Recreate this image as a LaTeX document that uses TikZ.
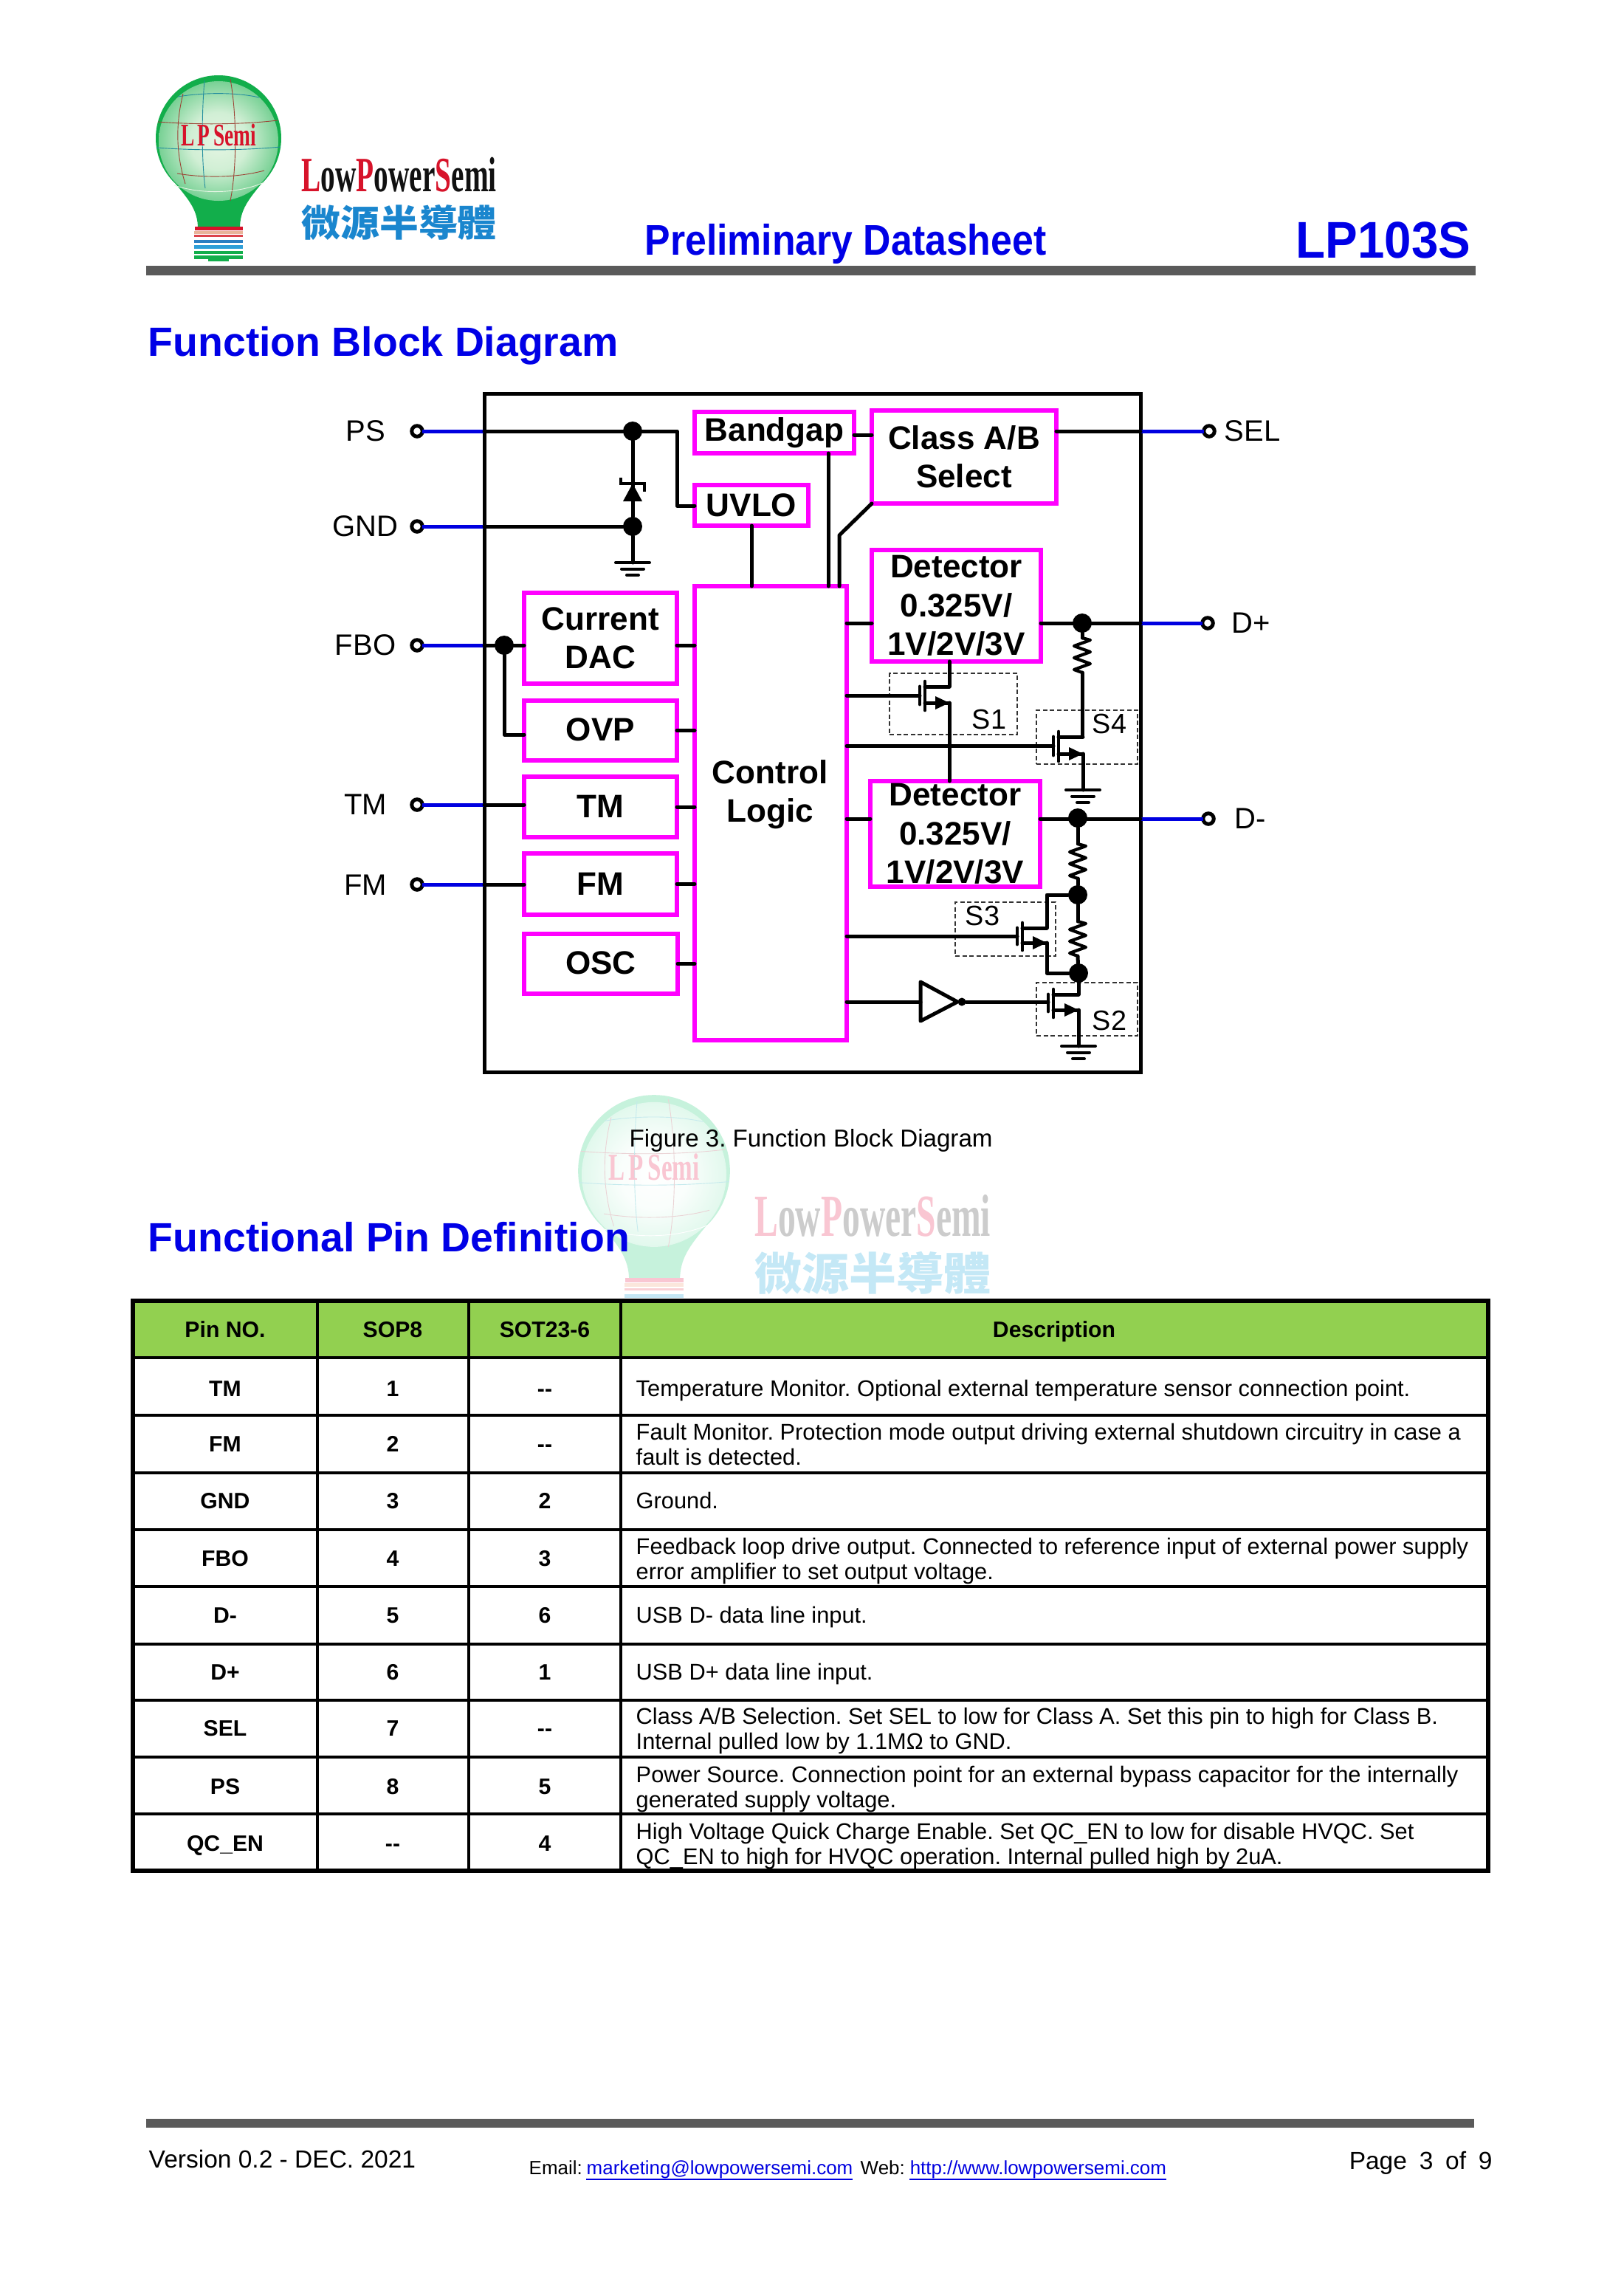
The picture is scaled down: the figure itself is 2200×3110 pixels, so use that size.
\documentclass[tikz,border=0pt]{standalone}
\usepackage{fontspec}
\setmainfont{Liberation Sans}
\newfontfamily\serifname{Liberation Serif}
\newfontfamily\cjkname{Noto Sans CJK TC}
\usetikzlibrary{calc}
\frenchspacing
\definecolor{mag}{HTML}{FF00FF}
\definecolor{wireblue}{HTML}{0000E0}
\definecolor{headblue}{HTML}{0000E6}
\definecolor{bargray}{HTML}{5A5A5A}
\definecolor{tablegreen}{HTML}{92D050}
\definecolor{lgreen}{HTML}{12AE4B}
\definecolor{llight}{HTML}{E6F6E4}
\pgfdeclareradialshading[lgreen,llight]{logoglow}{\pgfpointorigin}{%
  color(0bp)=(llight);color(12bp)=(llight!90!lgreen);color(26bp)=(llight!45!lgreen);
  color(38bp)=(lgreen);color(50bp)=(lgreen)}
\def\uu{0.27pt}
\tikzset{
  x=0.27pt,y=-0.27pt,
  wire/.style={line width=5*\uu,black,line cap=round,line join=round},
  bluewire/.style={line width=5*\uu,wireblue},
  chipbox/.style={draw=black,line width=5*\uu,rectangle,inner sep=0pt,outer sep=0pt},
  magbox/.style={draw=mag,line width=5.5*\uu,rectangle,inner sep=0pt,outer sep=0pt,align=center,
    font=\fontsize{11.9pt}{14.2pt}\bfseries\selectfont},
  dashbox/.style={draw=black!80,line width=1.3*\uu,dash pattern=on 6*\uu off 3.5*\uu,rectangle,inner sep=0pt,outer sep=0pt},
  pincirc/.style={circle,draw=black,fill=white,line width=5*\uu,minimum size=14.5*\uu,inner sep=0pt,outer sep=0pt},
  junc/.style={circle,fill=black,minimum size=26*\uu,inner sep=0pt,outer sep=0pt},
  pinlab/.style={font=\fontsize{10.8pt}{13pt}\selectfont,inner sep=0pt},
  slab/.style={font=\fontsize{10.2pt}{13pt}\selectfont,inner sep=0pt},
  heading/.style={font=\fontsize{14.95pt}{18pt}\bfseries\selectfont,text=headblue,inner sep=0pt,anchor=base west},
  tbhead/.style={font=\fontsize{8.15pt}{10pt}\bfseries\selectfont,inner sep=0pt,anchor=base},
  tbdesc/.style={font=\fontsize{8.31pt}{10pt}\selectfont,inner sep=0pt,anchor=base west},
  foot/.style={font=\fontsize{9.05pt}{11pt}\selectfont,inner sep=0pt,anchor=base west},
  small/.style={font=\fontsize{7.0pt}{9pt}\selectfont,inner sep=0pt,anchor=base west},
  tbline/.style={line width=4.6*\uu,black},
  tbedge/.style={line width=5.6*\uu,black,line cap=rect},
}
% box given by the corners of its stroke
\newcommand\BxText{}
\newcommand\bx[6]{%
  \node[#1,minimum width={(#5-#3)*\uu},minimum height={(#6-#4)*\uu}] (#2)
    at ({(#3+#5)/2},{(#4+#6)/2}) {\BxText};}
\newcommand\tbx[6]{\renewcommand\BxText{#6}\bx{magbox}{#1}{#2}{#3}{#4}{#5}\renewcommand\BxText{}}
% ground symbol
\newcommand\gnd[3]{%
  \coordinate (#1) at (#2,#3);
  \draw[line width=4*\uu,black,line cap=round] (#2-23,#3) -- (#2+23,#3);
  \draw[line width=4*\uu,black,line cap=round] (#2-15,#3+8.5) -- (#2+15,#3+8.5);
  \draw[line width=4*\uu,black,line cap=round] (#2-8,#3+17) -- (#2+8,#3+17);}
% resistor
\newcommand\resis[3]{%
  \coordinate (#1a) at (#2,#3);
  \coordinate (#1b) at (#2,#3+47);
  \draw[wire,line width=4.2*\uu] (#1a) -- (#2+11,#3+3) -- (#2-11,#3+11) -- (#2+11,#3+19)
    -- (#2-11,#3+27) -- (#2+11,#3+35) -- (#2-11,#3+43) -- (#1b);}
% MOSFET: name, channel x, drain y, source y, right x
\newcommand\mosfet[5]{%
  \coordinate (#1g) at (#2-7,{(#3+#4+2)/2});
  \coordinate (#1d) at (#5,#3);
  \coordinate (#1s) at (#5,#4);
  \draw[line width=4.6*\uu,black,line cap=round] (#2,#3-7) -- (#2,#4+10);
  \draw[line width=4.8*\uu,black,line cap=round] (#2-7,#3) -- (#2-7,#4+2);
  \draw[wire] (#2,#3) -- (#1d);
  \draw[wire] (#2,#4) -- (#1s);
  \fill[black] (#5-19,#4-9) -- (#5,#4) -- (#5-19,#4+9) -- cycle;}
% table row with one or two description lines
\newcommand\rowcells[5]{%
  \node[tbhead] (#1pin) at (305,#2+10.5) {#3};
  \node[tbhead] (#1sop) at (532,#2+10.5) {#4};
  \node[tbhead] (#1sot) at (738,#2+10.5) {#5};}
\newcommand\rowA[6]{\rowcells{#1}{#2}{#3}{#4}{#5}
  \node[tbdesc] (#1desc) at (861,#2+10.5) {#6};}
\newcommand\rowB[7]{\rowcells{#1}{#2}{#3}{#4}{#5}
  \node[tbdesc] (#1descA) at (861,#2-6) {#6};
  \node[tbdesc] (#1descB) at (861,#2+28) {#7};}
% logo
\newcommand\drawlogo[3]{%
  \begin{scope}[shift={(#1)},scale=#2,transform shape,name prefix=#3-]
    \fill[lgreen] (-58,62) .. controls (-40,84) and (-28,98) .. (-28,122) -- (29,122)
       .. controls (29,98) and (40,84) .. (58,62) -- cycle;
    \fill[lgreen] (0,0) circle (85);
    \shade[shading=logoglow] (0,4) circle (81);
    \draw[lred!70!lgreen,line width=0.9*\uu] (-82,-22) .. controls (-30,-18) and (30,-18) .. (80,-24);
    \draw[lred!70!lgreen,line width=0.9*\uu] (-56,48) .. controls (-20,54) and (25,54) .. (62,44);
    \draw[lblue!70!lgreen,line width=0.9*\uu] (-55,-56) .. controls (-20,-62) and (25,-62) .. (55,-55);
    \draw[lblue!70!lgreen,line width=0.9*\uu] (-84,13) .. controls (-30,17) and (30,17) .. (84,12);
    \draw[lred!70!lgreen,line width=0.9*\uu] (-48,-60) .. controls (-58,-20) and (-58,20) .. (-45,62);
    \draw[lblue!70!lgreen,line width=0.9*\uu] (-19,-78) .. controls (-23,-30) and (-23,30) .. (-18,68);
    \draw[lred!70!lgreen,line width=0.9*\uu] (16,-80) .. controls (25,-30) and (25,40) .. (16,85);
    \draw[llight,line width=0.9*\uu] (-60,64) .. controls (-25,76) and (25,76) .. (62,60);
    \fill[lred] (-32,120) rectangle (33,125);
    \fill[ltan] (-33,126) rectangle (33,130);
    \fill[lred!70!ltan] (-33,131) rectangle (33,134);
    \fill[lblue] (-33,138) rectangle (33,142);
    \fill[lcyan] (-33,145) rectangle (33,150);
    \fill[lgreen] (-33,153) rectangle (33,157);
    \fill[lgreen] (-33,159) rectangle (33,164);
    \fill[lgreen] (-14,164) rectangle (14,167);
    \node[inner sep=0pt,text=lred] (bulbtext) at (0,-4)
      {\resizebox*{27.5pt}{8.1pt}{\serifname\bfseries L\,P\,Semi}};
    \node[inner sep=0pt,anchor=west] (wordmark) at (112,50)
      {\resizebox*{71.3pt}{12.7pt}{\serifname\bfseries\textcolor{lred}{L}\textcolor{lblack}{ow}\textcolor{lred}{P}\textcolor{lblack}{ower}\textcolor{lred}{S}\textcolor{lblack}{emi}}};
    \node[inner sep=0pt,anchor=west,text=lcjk] (cjkmark) at (112,114)
      {\resizebox*{71.3pt}{13pt}{\cjkname\bfseries 微源半導體}};
  \end{scope}}
\begin{document}
\begin{tikzpicture}
\useasboundingbox (0,0) rectangle (2200,3110);
\fill[white] (0,0) rectangle (2200,3110);
% watermark
\definecolor{lgreen}{HTML}{C6F2DC}
\definecolor{llight}{HTML}{FFFFFF}
\definecolor{lred}{HTML}{F9C6D2}
\definecolor{ltan}{HTML}{FBE6DC}
\definecolor{lblue}{HTML}{C4E6F4}
\definecolor{lcyan}{HTML}{CDEEF8}
\definecolor{lblack}{HTML}{CCCCCC}
\definecolor{lcjk}{HTML}{C4E8F6}
\drawlogo{886,1586}{1.21}{wm}
% logo
\definecolor{lgreen}{HTML}{12AE4B}
\definecolor{llight}{HTML}{E6F6E4}
\definecolor{lred}{HTML}{D7132A}
\definecolor{ltan}{HTML}{E9B49A}
\definecolor{lblue}{HTML}{2B7FC2}
\definecolor{lcyan}{HTML}{2F9FD8}
\definecolor{lblack}{HTML}{111111}
\definecolor{lcjk}{HTML}{1A86CE}
\drawlogo{296,187}{1}{logo}
% header
\fill[bargray] (198,360) rectangle (1999,373);
\node[inner sep=0pt,anchor=base west,text=headblue] (prelim) at (873,345)
  {\scalebox{0.89}[1]{\fontsize{15.7pt}{18pt}\bfseries\selectfont Preliminary Datasheet}};
\node[inner sep=0pt,anchor=base west,text=headblue] (partno) at (1755,349)
  {\scalebox{0.935}[1]{\fontsize{18.9pt}{22pt}\bfseries\selectfont LP103S}};
\node[heading] (h1) at (200,482) {Function Block Diagram};
\node[heading] (h2) at (200,1695) {Functional Pin Definition};
\node[font=\fontsize{8.95pt}{11pt}\selectfont,inner sep=0pt,anchor=base west] (caption) at (852,1553) {Figure 3. Function Block Diagram};
% chip outline
\bx{chipbox}{chip}{656}{533}{1545}{1452}
% blocks
\tbx{bg}{941}{558}{1157}{614}{\raisebox{-0.2pt}{Bandgap}}
\tbx{uvlo}{941}{657}{1095}{712}{\raisebox{0.4pt}{UVLO}}
\tbx{ctl}{941}{794}{1147}{1409}{}
\node[font=\fontsize{11.9pt}{14.1pt}\bfseries\selectfont,align=center,inner sep=0pt] (ctltext) at (1043,1076) {Control\\Logic};
\tbx{cls}{1181}{556}{1431}{682}{Class A/B\\[-0.2pt]Select}
\tbx{det1}{1181}{745}{1410}{896}{Detector\\0.325V/\\1V/2V/3V}
\tbx{det2}{1179}{1058}{1409}{1201}{Detector\\0.325V/\\1V/2V/3V}
\tbx{cdac}{710}{803}{917}{926}{Current\\DAC}
\tbx{ovp}{710}{949}{917}{1030}{\raisebox{0.6pt}{OVP}}
\tbx{tm}{710}{1052}{917}{1134}{\raisebox{0.4pt}{TM}}
\tbx{fm}{710}{1156}{917}{1239}{FM}
\tbx{osc}{710}{1265}{918}{1346}{\raisebox{0.8pt}{OSC}}
% switch boxes
\bx{dashbox}{bxS1}{1205}{912}{1378}{995}
\bx{dashbox}{bxS4}{1404}{962}{1541}{1035}
\bx{dashbox}{bxS3}{1294}{1222}{1430}{1295}
\bx{dashbox}{bxS2}{1404}{1331}{1541}{1403}
\node[slab] (lS1) at (1340,974) {S1};
\node[slab] (lS4) at (1503,980) {S4};
\node[slab] (lS3) at (1331,1240) {S3};
\node[slab] (lS2) at (1503,1382) {S2};
% pins
\node[pincirc] (pinPS) at (565,584) {};
\node[pincirc] (pinGND) at (565,713) {};
\node[pincirc] (pinFB) at (565,874) {};
\node[pincirc] (pinTM) at (565,1090) {};
\node[pincirc] (pinFM) at (565,1198) {};
\node[pincirc] (pinSEL) at (1638,584) {};
\node[pincirc] (pinDP) at (1636,844) {};
\node[pincirc] (pinDM) at (1637,1109) {};
\node[pinlab] (tPS) at (495,584) {PS};
\node[pinlab] (tGND) at (495,713) {GND};
\node[pinlab] (tFB) at (495,874) {FBO};
\node[pinlab] (tTM) at (495,1090) {TM};
\node[pinlab] (tFM) at (495,1199) {FM};
\node[pinlab,anchor=west] (tSEL) at (1658,584) {SEL};
\node[pinlab,anchor=west] (tDP) at (1668,844) {D+};
\node[pinlab,anchor=west] (tDM) at (1672,1109) {D-};
\foreach \p in {pinPS,pinGND,pinFB,pinTM,pinFM}
  \draw[bluewire] (\p.east) -- (\p -| chip.west);
\foreach \p in {pinSEL,pinDP,pinDM}
  \draw[bluewire] (\p -| chip.east) -- (\p.west);
% junctions
\node[junc] (jPS) at (857,584) {};
\node[junc] (jGND) at (857,713) {};
\node[junc] (jFB) at (683,874) {};
\node[junc] (jDP) at (1466,844) {};
\node[junc] (jDM) at (1460,1108) {};
\node[junc] (jA) at (1460,1212) {};
\node[junc] (jB) at (1461,1318) {};
% power rail, zener
\coordinate (bendUV) at (917,685);
\draw[wire] (pinPS -| chip.west) -- (bendUV |- pinPS) -- (bendUV) -- (uvlo.west |- bendUV);
\draw[wire] (pinGND -| chip.west) -- (jGND);
\draw[wire] (jPS) -- (jGND);
\fill[black] (857,655) -- (870,679) -- (844,679) -- cycle;
\draw[line width=4*\uu,black,line join=miter] (841,647) -- (841,655) -- (873,655) -- (873,666);
\gnd{gA}{857}{762}
\draw[wire] (jGND) -- (gA);
% FBO
\coordinate (bendOVP) at (683,995);
\draw[wire] (pinFB -| chip.west) -- (jFB) -- (jFB -| cdac.west);
\draw[wire] (jFB) -- (bendOVP) -- (bendOVP -| ovp.west);
\draw[wire] (pinTM -| chip.west) -- (pinTM -| tm.west);
\draw[wire] (pinFM -| chip.west) -- (pinFM -| fm.west);
% blocks to control logic
\draw[wire] (jFB -| cdac.east) -- (jFB -| ctl.west);
\draw[wire] (ovp.east) -- (ovp.east -| ctl.west);
\draw[wire] (tm.east) -- (tm.east -| ctl.west);
\draw[wire] (fm.east) -- (fm.east -| ctl.west);
\draw[wire] (osc.east) -- (osc.east -| ctl.west);
\draw[wire] (uvlo.south) -- (uvlo.south |- ctl.north);
\coordinate (bgOut) at (1122,614);
\draw[wire] (bgOut) -- (bgOut |- ctl.north);
\coordinate (bgLink) at (1157,589);
\draw[wire] (bgLink) -- (bgLink -| cls.west);
\coordinate (clsBend) at (1137,725);
\draw[wire] (cls.south west) -- (clsBend) -- (clsBend |- ctl.north);
\draw[wire] (pinSEL -| cls.east) -- (pinSEL -| chip.east);
% D+
\draw[wire] (pinDP -| ctl.east) -- (pinDP -| det1.west);
\draw[wire] (pinDP -| det1.east) -- (pinDP -| chip.east);
\resis{rA}{1466}{864}
\draw[wire] (jDP) -- (rAa);
% D-
\draw[wire] (pinDM -| ctl.east) -- (pinDM -| det2.west);
\draw[wire] (pinDM -| det2.east) -- (pinDM -| chip.east);
\resis{rB}{1460}{1143}
\resis{rC}{1460}{1248}
\draw[wire] (jDM) -- (rBa);
\draw[wire] (rBb) -- (jA) -- (rCa);
\draw[wire] (rCb) -- (jB);
% switches
\mosfet{S1}{1253}{930}{952}{1286}
\mosfet{S4}{1434}{998}{1021}{1467}
\mosfet{S3}{1385}{1257}{1277}{1418}
\mosfet{S2}{1427}{1347}{1368}{1461}
\draw[wire] (S1d) -- (S1d |- det1.south);
\draw[wire] (S1s) -- (S1s |- det2.north);
\draw[wire] (S1g -| ctl.east) -- (S1g);
\draw[wire] (S4g -| ctl.east) -- (S4g);
\draw[wire] (rAb) -- (rAb |- S4d);
\gnd{gB}{1467}{1070}
\draw[wire] (S4s) -- (gB);
\draw[wire] (S3g -| ctl.east) -- (S3g);
\draw[wire] (jA) -- (jA -| S3d) -- (S3d);
\draw[wire] (S3s) -- (S3s |- jB) -- (jB);
\draw[wire] (jB) -- (S2d);
\gnd{gC}{1461}{1417}
\draw[wire] (S2s) -- (gC);
% inverter
\coordinate (invA) at (1247,1357);
\draw[wire] (1247,1330) -- (1247,1383) -- (1297,1357) -- cycle;
\node[circle,fill=black,minimum size=11*\uu,inner sep=0pt,outer sep=0pt] (invB) at (1303,1357) {};
\draw[wire] (invA -| ctl.east) -- (invA);
\draw[wire] (invB) -- (invB -| S2g);
% table
\fill[tablegreen] (180,1762) rectangle (2016,1839);
\foreach \yy in {1839,1917,1995,2072,2149,2227,2303,2380,2457}
  \draw[tbline] (180,\yy) -- (2016,\yy);
\foreach \xx in {430,635,841}
  \draw[tbline] (\xx,1762) -- (\xx,2534);
\draw[tbedge] (180,1762) rectangle (2016,2534);
\node[tbhead] (hPin) at (305,1811) {Pin NO.};
\node[tbhead] (hSop) at (532,1811) {SOP8};
\node[tbhead] (hSot) at (738,1811) {SOT23-6};
\node[tbhead] (hDesc) at (1428,1811) {Description};
\rowA{rTM}{1881}{TM}{1}{-{}-}{Temperature Monitor. Optional external temperature sensor connection point.}
\rowB{rFM}{1956}{FM}{2}{-{}-}{Fault Monitor. Protection mode output driving external shutdown circuitry in case a}{fault is detected.}
\rowA{rGD}{2033}{GND}{3}{2}{Ground.}
\rowB{rFB}{2111}{FBO}{4}{3}{Feedback loop drive output. Connected to reference input of external power supply}{error amplifier to set output voltage.}
\rowA{rDM}{2188}{D-}{5}{6}{USB D- data line input.}
\rowA{rDP}{2265}{D+}{6}{1}{USB D+ data line input.}
\rowB{rSL}{2341}{SEL}{7}{-{}-}{Class A/B Selection. Set SEL to low for Class A. Set this pin to high for Class B.}{Internal pulled low by 1.1MΩ to GND.}
\rowB{rPS}{2420}{PS}{8}{5}{Power Source. Connection point for an external bypass capacitor for the internally}{generated supply voltage.}
\rowB{rQC}{2497}{QC\_EN}{-{}-}{4}{High Voltage Quick Charge Enable. Set QC\_EN to low for disable HVQC. Set}{QC\_EN to high for HVQC operation. Internal pulled high by 2uA.}
% footer
\fill[bargray] (198,2870) rectangle (1997,2882);
\node[foot] (ver) at (201,2936) {Version 0.2 - DEC. 2021};
\node[small] (mail) at (716,2945) {Email:};
\node[small,text=wireblue] (mailto) at (794,2945) {marketing@lowpowersemi.com};
\node[small] (web) at (1165,2945) {Web:};
\node[small,text=wireblue] (url) at (1232,2945) {http://www.lowpowersemi.com};
\draw[wireblue,line width=2.6*\uu] (794,2952) -- (1155,2952);
\draw[wireblue,line width=2.6*\uu] (1232,2952) -- (1580,2952);
\node[foot] (page) at (1827,2938) {Page\,\,\,3\,\,\,of\,\,\,9};
\end{tikzpicture}
\end{document}
